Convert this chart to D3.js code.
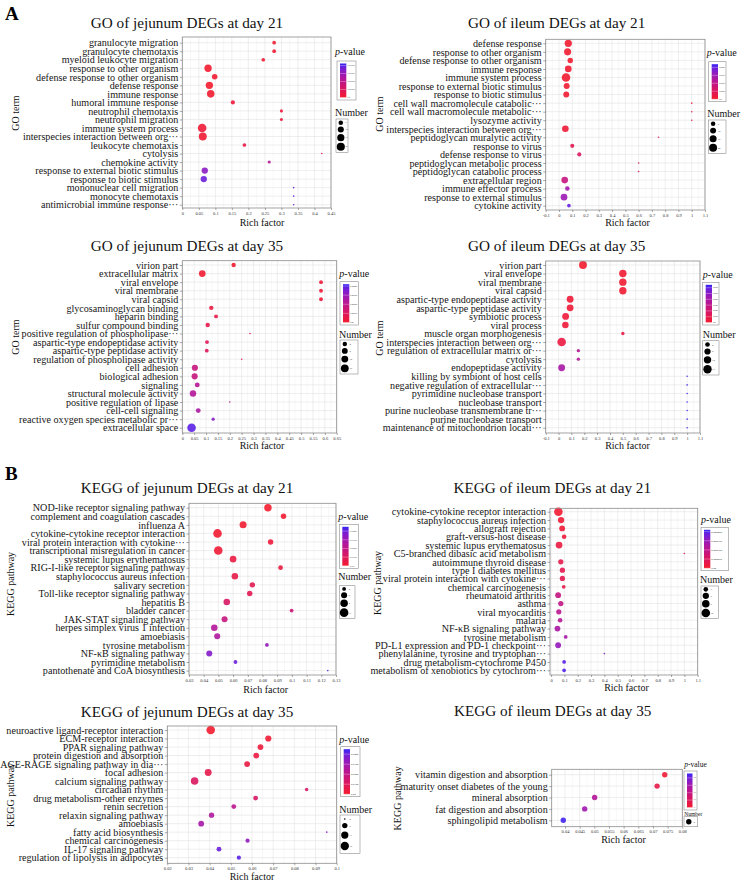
<!DOCTYPE html>
<html>
<head>
<meta charset="utf-8">
<script src="https://cdn.jsdelivr.net/npm/d3@7"></script>
<style>
  body { margin: 0; background: #fff; }
  svg { display: block; }
</style>
</head>
<body>
<svg id="fig" width="742" height="884"></svg>
<script>
var FONT = '"Liberation Serif", "Times New Roman", serif';

// ---------- A, left: GO of jejunum DEGs at day 21
var goJej21Terms = ["granulocyte migration", "granulocyte chemotaxis", "myeloid leukocyte migration",
  "response to other organism", "defense response to other organism", "defense response", "immune response",
  "humoral immune response", "neutrophil chemotaxis", "neutrophil migration", "immune system process",
  "interspecies interaction between org\u00b7\u00b7\u00b7", "leukocyte chemotaxis", "cytolysis", "chemokine activity",
  "response to external biotic stimulus", "response to biotic stimulus", "mononuclear cell migration",
  "monocyte chemotaxis", "antimicrobial immune response\u00b7\u00b7\u00b7"];
var goJej21Rich = [0.278, 0.278, 0.245, 0.078, 0.098, 0.082, 0.086, 0.153, 0.300, 0.300, 0.060, 0.062, 0.188, 0.422, 0.263, 0.068, 0.065, 0.337, 0.337, 0.337];
var goJej21Gene = [3, 3, 3, 16, 8, 16, 17, 4, 2, 2, 23, 19, 3, 1, 2, 11, 11, 1, 1, 1];
var goJej21P = [3e-9, 3e-9, 4e-9, 1e-9, 2e-9, 1e-9, 2e-9, 6e-9, 6e-9, 6e-9, 4e-9, 3e-9, 1e-8, 2.5e-8, 4.5e-8, 6.5e-8, 7.5e-8, 7.5e-8, 7.5e-8, 7.5e-8];
var goJej21PTicks = [0, 2e-8, 4e-8, 6e-8, 8e-8];
var goJej21NTicks = [5, 10, 15, 20];
var goJej21XTicks = [0, 0.05, 0.1, 0.15, 0.2, 0.25, 0.3, 0.35, 0.4, 0.45];

// ---------- A, right: GO of ileum DEGs at day 21
var goIle21Terms = ["defense response", "response to other organism", "defense response to other organism",
  "immune response", "immune system process", "response to external biotic stimulus", "response to biotic stimulus",
  "cell wall macromolecule catabolic\u00b7\u00b7\u00b7", "cell wall macromolecule metabolic\u00b7\u00b7\u00b7", "lysozyme activity",
  "interspecies interaction between org\u00b7\u00b7\u00b7", "peptidoglycan muralytic activity", "response to virus",
  "defense response to virus", "peptidoglycan metabolic process", "peptidoglycan catabolic process",
  "extracellular region", "immune effector process", "response to external stimulus", "cytokine activity"];
var goIle21Rich = [0.070, 0.065, 0.085, 0.070, 0.053, 0.058, 0.055, 1.0, 1.0, 1.0, 0.048, 0.75, 0.100, 0.153, 0.60, 0.60, 0.043, 0.063, 0.038, 0.075];
var goIle21Gene = [16, 15, 8, 13, 24, 10, 10, 1, 1, 1, 13, 1, 4, 4, 1, 1, 13, 5, 13, 3];
var goIle21P = [4e-6, 5e-6, 5e-6, 6e-6, 5e-6, 7e-6, 7e-6, 2.5e-5, 2.5e-5, 2.5e-5, 1.2e-5, 4e-5, 4e-5, 5.5e-5, 6e-5, 6e-5, 9e-5, 1.4e-4, 1.5e-4, 2.0e-4];
var goIle21PTicks = [0, 5e-5, 1e-4, 1.5e-4, 2e-4];
var goIle21NTicks = [5, 10, 15, 20];
var goIle21XTicks = [-0.1, 0, 0.1, 0.2, 0.3, 0.4, 0.5, 0.6, 0.7, 0.8, 0.9, 1, 1.1];

// ---------- A, left: GO of jejunum DEGs at day 35
var goJej35Terms = ["virion part", "extracellular matrix", "viral envelope", "viral membrane", "viral capsid",
  "glycosaminoglycan binding", "heparin binding", "sulfur compound binding",
  "positive regulation of phospholipase\u00b7\u00b7\u00b7", "aspartic-type endopeptidase activity",
  "aspartic-type peptidase activity", "regulation of phospholipase activity", "cell adhesion",
  "biological adhesion", "signaling", "structural molecule activity", "positive regulation of lipase",
  "cell-cell signaling", "reactive oxygen species metabolic pr\u00b7\u00b7\u00b7", "extracellular space"];
var goJej35Rich = [0.216, 0.084, 0.584, 0.584, 0.584, 0.122, 0.142, 0.107, 0.285, 0.104, 0.103, 0.250, 0.053, 0.052, 0.063, 0.045, 0.200, 0.067, 0.130, 0.039];
var goJej35Gene = [4, 11, 3, 3, 3, 4, 3, 4, 1, 3, 3, 1, 9, 9, 5, 10, 1, 5, 2, 20];
var goJej35P = [1e-5, 1e-5, 3e-5, 3e-5, 3e-5, 4e-5, 5e-5, 6e-5, 8e-5, 9e-5, 9e-5, 1e-4, 1.7e-4, 1.7e-4, 2.2e-4, 2.3e-4, 2.3e-4, 2.5e-4, 3.3e-4, 3.9e-4];
var goJej35PTicks = [0, 1e-4, 2e-4, 3e-4, 4e-4];
var goJej35NTicks = [4, 8, 12, 16];
var goJej35XTicks = [0, 0.05, 0.1, 0.15, 0.2, 0.25, 0.3, 0.35, 0.4, 0.45, 0.5, 0.55, 0.6, 0.65];

// ---------- A, right: GO of ileum DEGs at day 35
var goIle35Terms = ["virion part", "viral envelope", "viral membrane", "viral capsid",
  "aspartic-type endopeptidase activity", "aspartic-type peptidase activity", "symbiotic process", "viral process",
  "muscle organ morphogenesis", "interspecies interaction between org\u00b7\u00b7\u00b7",
  "regulation of extracellular matrix or\u00b7\u00b7\u00b7", "cytolysis", "endopeptidase activity",
  "killing by symbiont of host cells", "negative regulation of extracellular\u00b7\u00b7\u00b7",
  "pyrimidine nucleobase transport", "nucleobase transport", "purine nucleobase transmembrane tr\u00b7\u00b7\u00b7",
  "purine nucleobase transport", "maintenance of mitochondrion locati\u00b7\u00b7\u00b7"];
var goIle35Rich = [0.19, 0.5, 0.5, 0.5, 0.09, 0.09, 0.055, 0.053, 0.5, 0.024, 0.154, 0.154, 0.024, 1, 1, 1, 1, 1, 1, 1];
var goIle35Gene = [14, 12, 12, 12, 10, 10, 10, 9, 2, 17, 2, 2, 10, 1, 1, 1, 1, 1, 1, 1];
var goIle35P = [0.001, 0.002, 0.002, 0.002, 0.003, 0.003, 0.004, 0.004, 0.008, 0.006, 0.035, 0.035, 0.040, 0.062, 0.062, 0.062, 0.062, 0.062, 0.062, 0.062];
var goIle35PTicks = [0, 0.01, 0.02, 0.03, 0.04, 0.05, 0.06];
var goIle35NTicks = [4, 8, 12, 16];
var goIle35XTicks = [-0.1, 0, 0.1, 0.2, 0.3, 0.4, 0.5, 0.6, 0.7, 0.8, 0.9, 1, 1.1];

// ---------- B, left: KEGG of jejunum DEGs at day 21
var keggJej21Terms = ["NOD-like receptor signaling pathway", "complement and coagulation cascades", "influenza A",
  "cytokine-cytokine receptor interaction", "viral protein interaction with cytokine\u00b7\u00b7\u00b7",
  "transcriptional misregulation in cancer", "systemic lupus erythematosus", "RIG-I-like receptor signaling pathway",
  "staphylococcus aureus infection", "salivary secretion", "Toll-like receptor signaling pathway", "hepatitis B",
  "bladder cancer", "JAK-STAT signaling pathway", "herpes simplex virus 1 infection", "amoebiasis",
  "tyrosine metabolism", "NF-\u03baB signaling pathway", "pyrimidine metabolism", "pantothenate and CoA biosynthesis"];
var keggJej21Rich = [0.0837, 0.0943, 0.0668, 0.0494, 0.0855, 0.0499, 0.0600, 0.0923, 0.0612, 0.0731, 0.0713, 0.0557, 0.0998, 0.0542, 0.0472, 0.0492, 0.0830, 0.0438, 0.0616, 0.1244];
var keggJej21Gene = [8, 4, 7, 11, 4, 11, 6, 3, 6, 4, 4, 6, 2, 5, 6, 5, 2, 5, 2, 1];
var keggJej21P = [0.0005, 0.001, 0.001, 0.001, 0.003, 0.002, 0.004, 0.005, 0.006, 0.008, 0.008, 0.012, 0.016, 0.018, 0.025, 0.026, 0.033, 0.036, 0.040, 0.043];
var keggJej21PTicks = [0, 0.01, 0.02, 0.03, 0.04];
var keggJej21NTicks = [2, 5, 8, 11];
var keggJej21XTicks = [0.03, 0.04, 0.05, 0.06, 0.07, 0.08, 0.09, 0.1, 0.11, 0.12, 0.13];

// ---------- B, right: KEGG of ileum DEGs at day 21
var keggIle21Terms = ["cytokine-cytokine receptor interaction", "staphylococcus aureus infection", "allograft rejection",
  "graft-versus-host disease", "systemic lupus erythematosus", "C5-branched dibasic acid metabolism",
  "autoimmune thyroid disease", "type I diabetes mellitus", "viral protein interaction with cytokine\u00b7\u00b7\u00b7",
  "chemical carcinogenesis", "rheumatoid arthritis", "asthma", "viral myocarditis", "malaria",
  "NF-\u03baB signaling pathway", "tyrosine metabolism", "PD-L1 expression and PD-1 checkpoint\u00b7\u00b7\u00b7",
  "phenylalanine, tyrosine and tryptophan\u00b7\u00b7\u00b7", "drug metabolism-cytochrome P450",
  "metabolism of xenobiotics by cytochrom\u00b7\u00b7\u00b7"];
var keggIle21Rich = [0.055, 0.075, 0.083, 0.098, 0.060, 1.0, 0.073, 0.085, 0.085, 0.095, 0.053, 0.073, 0.058, 0.068, 0.048, 0.110, 0.053, 0.400, 0.098, 0.098];
var keggIle21Gene = [12, 6, 5, 3, 7, 1, 4, 4, 4, 2, 5, 4, 4, 3, 5, 2, 5, 1, 2, 2];
var keggIle21P = [5e-6, 1e-5, 1e-5, 1.2e-5, 2e-5, 4e-5, 3e-5, 3.5e-5, 3.5e-5, 3e-5, 9e-5, 9.5e-5, 1.05e-4, 1.1e-4, 1.25e-4, 1.3e-4, 1.5e-4, 1.7e-4, 1.95e-4, 2e-4];
var keggIle21PTicks = [0, 5e-5, 1e-4, 1.5e-4, 2e-4];
var keggIle21NTicks = [3, 6, 9, 12];
var keggIle21XTicks = [0, 0.1, 0.2, 0.3, 0.4, 0.5, 0.6, 0.7, 0.8, 0.9, 1, 1.1];

// ---------- B, left: KEGG of jejunum DEGs at day 35
var keggJej35Terms = ["neuroactive ligand-receptor interaction", "ECM-receptor interaction", "PPAR signaling pathway",
  "protein digestion and absorption", "AGE-RAGE signaling pathway in dia\u00b7\u00b7\u00b7", "focal adhesion",
  "calcium signaling pathway", "circadian rhythm", "drug metabolism-other enzymes", "renin secretion",
  "relaxin signaling pathway", "amoebiasis", "fatty acid biosynthesis", "chemical carcinogenesis",
  "IL-17 signaling pathway", "regulation of lipolysis in adipocytes"];
var keggJej35Rich = [0.0405, 0.0677, 0.0640, 0.0620, 0.0577, 0.0393, 0.0329, 0.0858, 0.0617, 0.0514, 0.0409, 0.0360, 0.0953, 0.0579, 0.0444, 0.0538];
var keggJej35Gene = [16, 8, 7, 7, 7, 10, 12, 3, 5, 5, 6, 7, 2, 4, 5, 4];
var keggJej35P = [0.0005, 0.002, 0.003, 0.004, 0.005, 0.007, 0.011, 0.013, 0.012, 0.022, 0.026, 0.028, 0.034, 0.033, 0.040, 0.042];
var keggJej35PTicks = [0, 0.01, 0.02, 0.03, 0.04];
var keggJej35NTicks = [2, 6, 11, 15];
var keggJej35XTicks = [0.02, 0.03, 0.04, 0.05, 0.06, 0.07, 0.08, 0.09, 0.1];

// ---------- B, right: KEGG of ileum DEGs at day 35
var keggIle35Terms = ["vitamin digestion and absorption", "maturity onset diabetes of the young", "mineral absorption",
  "fat digestion and absorption", "sphingolipid metabolism"];
var keggIle35Rich = [0.0740, 0.0714, 0.0501, 0.0467, 0.0394];
var keggIle35Gene = [2, 2, 2, 2, 2];
var keggIle35P = [0.002, 0.006, 0.025, 0.030, 0.045];
var keggIle35PTicks = [0, 0.01, 0.02, 0.03, 0.04];
var keggIle35NTicks = [2];
var keggIle35XTicks = [0.04, 0.045, 0.05, 0.055, 0.06, 0.065, 0.07, 0.075, 0.08];

// panels: data + where each one sits on the page
var panels = [
  { title: "GO of jejunum DEGs at day 21", yTitle: "GO term",
    terms: goJej21Terms, rich: goJej21Rich, gene: goJej21Gene, p: goJej21P, pMax: 8.5e-8, pDigits: 8,
    pTicks: goJej21PTicks, nTicks: goJej21NTicks, xTicks: goJej21XTicks,
    box: [182.3, 331, 37, 208], xDomain: [0, 0.45], rows: [42.7, 204.7],
    titleAt: [187, 28], yTitleAt: [18.5, 113], xTitleAt: [262, 226],
    pT: [335, 55], cb: [337, 356, 61, 100], nT: [335, 116], nb: [336, 348, 119, 152.3] },
  { title: "GO of ileum DEGs at day 21", yTitle: "GO term",
    terms: goIle21Terms, rich: goIle21Rich, gene: goIle21Gene, p: goIle21P, pMax: 2.2e-4, pDigits: 6,
    pTicks: goIle21PTicks, nTicks: goIle21NTicks, xTicks: goIle21XTicks,
    box: [545.7, 705, 39.3, 210], xDomain: [-0.1, 1.1], rows: [43.3, 205.7],
    titleAt: [556.7, 28], yTitleAt: [382.5, 114], xTitleAt: [627.5, 226],
    pT: [706.7, 56], cb: [708.7, 726, 61.7, 101.7], nT: [707.3, 116.7], nb: [708.3, 726, 120, 153.3] },
  { title: "GO of jejunum DEGs at day 35", yTitle: "GO term",
    terms: goJej35Terms, rich: goJej35Rich, gene: goJej35Gene, p: goJej35P, pMax: 4.2e-4, pDigits: 6,
    pTicks: goJej35PTicks, nTicks: goJej35NTicks, xTicks: goJej35XTicks,
    box: [182.3, 336.7, 260.7, 433], xDomain: [0, 0.65], rows: [265, 427.7],
    titleAt: [187, 251], yTitleAt: [18.5, 337], xTitleAt: [262, 449],
    pT: [339.3, 277.3], cb: [340, 358.3, 281.7, 325], nT: [339, 337.7], nb: [340, 358, 340, 374] },
  { title: "GO of ileum DEGs at day 35", yTitle: "GO term",
    terms: goIle35Terms, rich: goIle35Rich, gene: goIle35Gene, p: goIle35P, pMax: 0.065, pDigits: 5,
    pTicks: goIle35PTicks, nTicks: goIle35NTicks, xTicks: goIle35XTicks,
    box: [545.7, 700, 261, 433], xDomain: [-0.1, 1.1], rows: [265, 427.7],
    titleAt: [556.7, 251], yTitleAt: [382.5, 338], xTitleAt: [627.5, 449],
    pT: [702.7, 277.7], cb: [702.7, 719, 282.3, 325], nT: [702.7, 338.3], nb: [702.7, 719, 340.7, 375] },
  { title: "KEGG of jejunum DEGs at day 21", yTitle: "KEGG pathway",
    terms: keggJej21Terms, rich: keggJej21Rich, gene: keggJej21Gene, p: keggJej21P, pMax: 0.045, pDigits: 4,
    pTicks: keggJej21PTicks, nTicks: keggJej21NTicks, xTicks: keggJej21XTicks,
    box: [189, 336, 503.3, 675], xDomain: [0.03, 0.13], rows: [507.7, 670.6],
    titleAt: [187, 493], yTitleAt: [14, 584], xTitleAt: [265.7, 692.5],
    pT: [338.3, 520], cb: [339.3, 358.3, 524.3, 568.3], nT: [338.3, 580], nb: [339.3, 355, 585.7, 618.3] },
  { title: "KEGG of ileum DEGs at day 21", yTitle: "KEGG pathway",
    terms: keggIle21Terms, rich: keggIle21Rich, gene: keggIle21Gene, p: keggIle21P, pMax: 2.1e-4, pDigits: 6,
    pTicks: keggIle21PTicks, nTicks: keggIle21NTicks, xTicks: keggIle21XTicks,
    box: [550, 697.7, 508.3, 675], xDomain: [-0.008, 1.1], rows: [511.7, 670.3],
    titleAt: [552.3, 493], yTitleAt: [381, 583], xTitleAt: [626.5, 691],
    pT: [701, 523.3], cb: [701, 728.3, 527.3, 570.7], nT: [700, 582.7], nb: [701, 718.3, 586, 618.3] },
  { title: "KEGG of jejunum DEGs at day 35", yTitle: "KEGG pathway",
    terms: keggJej35Terms, rich: keggJej35Rich, gene: keggJej35Gene, p: keggJej35P, pMax: 0.045, pDigits: 4,
    pTicks: keggJej35PTicks, nTicks: keggJej35NTicks, xTicks: keggJej35XTicks,
    box: [167.3, 336.7, 726, 863.3], xDomain: [0.02, 0.1], rows: [730, 857.7],
    titleAt: [187, 717], yTitleAt: [13.5, 795], xTitleAt: [252, 880],
    pT: [339.3, 742.7], cb: [340.7, 360, 746.7, 796.7], nT: [339.3, 812.7], nb: [340, 360, 815, 853.3] },
  { title: "KEGG of ileum DEGs at day 35", yTitle: "KEGG pathway",
    terms: keggIle35Terms, rich: keggIle35Rich, gene: keggIle35Gene, p: keggIle35P, pMax: 0.046, pDigits: 4,
    pTicks: keggIle35PTicks, nTicks: keggIle35NTicks, xTicks: keggIle35XTicks,
    box: [551.7, 682.3, 769.3, 826.7], xDomain: [0.03545, 0.08], rows: [774.7, 820.3],
    titleAt: [552.7, 716], yTitleAt: [401, 798.3], xTitleAt: [623.5, 843],
    pT: [684.3, 766.7], cb: [684, 697, 771, 810], nT: [684.3, 815.7], nb: [684, 697.7, 816.7, 826.7],
    legFs: [7.5, 5.5], barW: 5.5 }
];

var svg = d3.select("#fig").attr("font-family", FONT);
var defs = svg.append("defs");
var R_MIN = 0.8, R_MAX = 4.3;

// ggplot-like size scale: smallest count -> R_MIN, largest -> R_MAX (area scaled)
function makeSize(counts) {
  var lo = d3.min(counts), hi = d3.max(counts);
  if (lo === hi) return function() { return 2.7; };
  var s = d3.scaleSqrt().domain([0, hi - lo]).range([0, R_MAX - R_MIN]).clamp(true);
  return function(n) { return R_MIN + s(Math.max(0, n - lo)); };
}

function fmtTick(v) { return String(+v.toFixed(4)); }

function drawPanel(d, idx) {
  var g = svg.append("g");
  var x0 = d.box[0], x1 = d.box[1], y0 = d.box[2], y1 = d.box[3];
  var x = d3.scaleLinear().domain(d.xDomain).range([x0, x1]);
  var y = d3.scalePoint().domain(d.terms).range(d.rows);
  var col = d3.scaleLinear().domain([0, d.pMax]).range(["#f41c2c", "#3424f4"]).interpolate(d3.interpolateLab);
  var size = makeSize(d.gene);

  // panel background and grid
  g.append("rect").attr("x", x0).attr("y", y0).attr("width", x1 - x0).attr("height", y1 - y0).attr("fill", "#fff");
  var step = d.xTicks[1] - d.xTicks[0];
  var minors = [d.xTicks[0] - step / 2].concat(d.xTicks.map(function(t) { return t + step / 2; }))
    .filter(function(t) { return t > d.xDomain[0] && t < d.xDomain[1]; });
  g.selectAll(".minor").data(minors).enter().append("line")
    .attr("x1", function(t) { return x(t); }).attr("x2", function(t) { return x(t); })
    .attr("y1", y0).attr("y2", y1).attr("stroke", "#f0f0f0").attr("stroke-width", 0.5);
  g.selectAll(".major").data(d.xTicks).enter().append("line")
    .attr("x1", function(t) { return x(t); }).attr("x2", function(t) { return x(t); })
    .attr("y1", y0).attr("y2", y1).attr("stroke", "#e3e3e3").attr("stroke-width", 0.6);
  g.selectAll(".hgrid").data(d.terms).enter().append("line")
    .attr("x1", x0).attr("x2", x1)
    .attr("y1", function(t) { return y(t); }).attr("y2", function(t) { return y(t); })
    .attr("stroke", "#e3e3e3").attr("stroke-width", 0.6);

  // dots
  g.selectAll(".dot").data(d.terms).enter().append("circle")
    .attr("cx", function(t, i) { return x(d.rich[i]); })
    .attr("cy", function(t) { return y(t); })
    .attr("r", function(t, i) { return size(d.gene[i]); })
    .attr("fill", function(t, i) { return col(d.p[i]); })
    .attr("fill-opacity", 0.9);

  g.append("rect").attr("x", x0).attr("y", y0).attr("width", x1 - x0).attr("height", y1 - y0)
    .attr("fill", "none").attr("stroke", "#8c8c8c").attr("stroke-width", 0.8);

  // axes
  g.append("g").attr("transform", "translate(0," + y1 + ")")
    .call(d3.axisBottom(x).tickValues(d.xTicks).tickSize(2).tickPadding(1.5).tickFormat(fmtTick))
    .call(function(a) {
      a.attr("font-family", FONT).attr("font-size", 4.5);
      a.select(".domain").remove();
      a.selectAll("line").attr("stroke", "#555").attr("stroke-width", 0.5);
      a.selectAll("text").attr("fill", "#333");
    });
  g.append("g").attr("transform", "translate(" + x0 + ",0)")
    .call(d3.axisLeft(y).tickSize(2.5).tickPadding(1.5))
    .call(function(a) {
      a.attr("font-family", FONT).attr("font-size", 10.1);
      a.select(".domain").remove();
      a.selectAll("line").attr("stroke", "#555").attr("stroke-width", 0.5);
      a.selectAll("text").attr("fill", "#151515");
    });

  // titles
  g.append("text").attr("x", d.titleAt[0]).attr("y", d.titleAt[1]).attr("text-anchor", "middle")
    .attr("font-size", 15.2).attr("fill", "#111").text(d.title);
  g.append("text").attr("transform", "translate(" + d.yTitleAt[0] + "," + d.yTitleAt[1] + ") rotate(-90)")
    .attr("text-anchor", "middle").attr("font-size", 10).attr("fill", "#111").text(d.yTitle);
  g.append("text").attr("x", d.xTitleAt[0]).attr("y", d.xTitleAt[1]).attr("text-anchor", "middle")
    .attr("font-size", 10).attr("fill", "#111").text("Rich factor");

  // legend: p-value colour bar
  var fs = d.legFs || [10, 10];
  var pt = g.append("text").attr("x", d.pT[0]).attr("y", d.pT[1]).attr("font-size", fs[0]).attr("fill", "#111");
  pt.append("tspan").attr("font-style", "italic").text("p");
  pt.append("tspan").text("-value");

  var cb = d.cb, barW = d.barW || 6.3;
  g.append("rect").attr("x", cb[0]).attr("y", cb[2]).attr("width", cb[1] - cb[0]).attr("height", cb[3] - cb[2])
    .attr("fill", "#fff").attr("stroke", "#8c8c8c").attr("stroke-width", 0.6);
  var gid = "pgrad" + idx;
  var grad = defs.append("linearGradient").attr("id", gid).attr("x1", 0).attr("y1", 1).attr("x2", 0).attr("y2", 0);
  d3.range(0, 11).forEach(function(i) {
    grad.append("stop").attr("offset", i / 10).attr("stop-color", col(d.pMax * i / 10));
  });
  var bx = cb[0] + 3, by0 = cb[2] + 2.5, by1 = cb[3] - 2.5;
  g.append("rect").attr("x", bx).attr("y", by0).attr("width", barW).attr("height", by1 - by0)
    .attr("fill", "url(#" + gid + ")");
  var pBar = d3.scaleLinear().domain([0, d.pMax]).range([by1, by0]);
  var labels = d.pTicks.map(function(v) { return v === 0 ? "0.00" : v.toFixed(d.pDigits); });
  var maxChars = d3.max(labels, function(s) { return s.length; });
  var lx = bx + barW + 1;
  var lfs = Math.min(2.8, (cb[1] - lx - 0.8) / (maxChars * 0.5));
  g.selectAll(".ptick").data(d.pTicks).enter().append("line")
    .attr("x1", bx).attr("x2", bx + barW)
    .attr("y1", function(v) { return pBar(v); }).attr("y2", function(v) { return pBar(v); })
    .attr("stroke", "#fff").attr("stroke-width", 0.3);
  g.selectAll(".plab").data(d.pTicks).enter().append("text")
    .attr("x", lx).attr("y", function(v) { return pBar(v); }).attr("dy", "0.35em")
    .attr("font-size", lfs).attr("fill", "#333")
    .text(function(v, i) { return labels[i]; });

  // legend: Number (gene count) circles
  g.append("text").attr("x", d.nT[0]).attr("y", d.nT[1]).attr("font-size", fs[1]).attr("fill", "#111").text("Number");
  var nb = d.nb;
  g.append("rect").attr("x", nb[0]).attr("y", nb[2]).attr("width", nb[1] - nb[0]).attr("height", nb[3] - nb[2])
    .attr("fill", "#fff").attr("stroke", "#8c8c8c").attr("stroke-width", 0.6);
  var keys = d.nTicks.map(function(n) { return { n: n, r: size(n) }; });
  var used = d3.sum(keys, function(k) { return 2 * k.r; });
  var gap = (nb[3] - nb[2] - used) / (keys.length + 1);
  var cy = nb[2] + gap;
  keys.forEach(function(k) { k.cy = cy + k.r; cy += 2 * k.r + gap; });
  var cx = nb[0] + 4.8;
  var nlx = cx + 4.6;
  var nfs = Math.min(2.8, (nb[1] - nlx - 0.6) / (d3.max(d.nTicks, function(n) { return String(n).length; }) * 0.5));
  g.selectAll(".nkey").data(keys).enter().append("circle")
    .attr("cx", cx).attr("cy", function(k) { return k.cy; }).attr("r", function(k) { return k.r; })
    .attr("fill", "#000");
  g.selectAll(".nlab").data(keys).enter().append("text")
    .attr("x", nlx).attr("y", function(k) { return k.cy; }).attr("dy", "0.35em")
    .attr("font-size", nfs).attr("fill", "#333").text(function(k) { return k.n; });
}

panels.forEach(drawPanel);

// section letters
svg.append("text").attr("x", 5).attr("y", 20).attr("font-size", 19).attr("font-weight", "bold").attr("fill", "#000").text("A");
svg.append("text").attr("x", 5).attr("y", 480).attr("font-size", 19).attr("font-weight", "bold").attr("fill", "#000").text("B");
</script>
</body>
</html>
